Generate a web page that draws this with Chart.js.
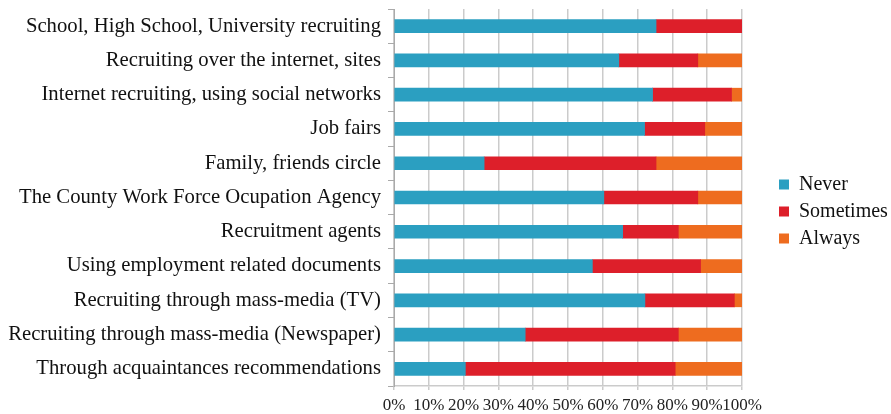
<!DOCTYPE html>
<html>
<head>
<meta charset="utf-8">
<script src="https://cdn.jsdelivr.net/npm/chart.js@4"></script>
<style>
  html, body { margin: 0; padding: 0; background: #fff; }
  #wrap { width: 891px; height: 414px; }
</style>
</head>
<body>
<div id="wrap"><canvas id="chart"></canvas></div>
<script>
const categories = [
    'School, High School, University recruiting',
    'Recruiting over the internet, sites',
    'Internet recruiting, using social networks',
    'Job fairs',
    'Family, friends circle',
    'The County Work Force Ocupation Agency',
    'Recruitment agents',
    'Using employment related documents',
    'Recruiting through mass-media (TV)',
    'Recruiting through mass-media (Newspaper)',
    'Through acquaintances recommendations'
];
const never = [75.3, 64.6, 74.3, 72.0, 25.9, 60.3, 65.7, 57.0, 72.1, 37.7, 20.5];
const sometimes = [24.7, 22.7, 22.7, 17.3, 49.4, 27.0, 16.0, 31.1, 25.7, 44.0, 60.3];
const always = [0, 12.7, 3.0, 10.7, 24.7, 12.7, 18.3, 11.9, 2.2, 18.3, 19.2];
const xTicks = [0, 10, 20, 30, 40, 50, 60, 70, 80, 90, 100];

const serif = "'Liberation Serif', 'Times New Roman', serif";

// legend sits on the right with some white space between it and the bars
const legendSpace = {
    id: 'legendSpace',
    beforeLayout(chart) {
        const lg = chart.legend;
        if (!lg || lg._spaced) return;
        const fit = lg.fit;
        lg.fit = function () { fit.call(this); this.width = 149; };
        lg._spaced = true;
    },
    afterLayout(chart) {
        if (chart.legend) chart.legend.left += 30;
    }
};

const ctx = document.getElementById('chart').getContext('2d');
new Chart(ctx, {
    type: 'bar',
    data: {
        labels: categories,
        datasets: [
            { label: 'Never', data: never, backgroundColor: '#2b9fc1', barThickness: 13 },
            { label: 'Sometimes', data: sometimes, backgroundColor: '#dd1f2a', barThickness: 13 },
            { label: 'Always', data: always, backgroundColor: '#ee6c1f', barThickness: 13 }
        ]
    },
    plugins: [legendSpace],
    options: {
        indexAxis: 'y',
        responsive: true,
        maintainAspectRatio: false,
        animation: false,
        layout: { padding: { top: 9, right: 0, bottom: 0, left: 0 } },
        plugins: {
            tooltip: { enabled: false },
            legend: {
                position: 'right',
                labels: {
                    boxWidth: 10,
                    boxHeight: 10,
                    padding: 7,
                    color: '#111',
                    font: { family: serif, size: 20 }
                }
            }
        },
        scales: {
            x: {
                stacked: true,
                min: 0,
                max: 100,
                afterBuildTicks: (scale) => { scale.ticks = xTicks.map(v => ({ value: v })); },
                afterFit: (scale) => { scale.height = 28; },
                ticks: {
                    callback: (v) => v + '%',
                    color: '#222',
                    padding: 5,
                    autoSkip: false,
                    maxRotation: 0,
                    font: { family: serif, size: 17 }
                },
                grid: { color: '#cbcbcb', lineWidth: 1.5, tickLength: 4 },
                border: { display: true, color: '#cbcbcb', width: 1.5 }
            },
            y: {
                stacked: true,
                afterFit: (scale) => {
                    scale.width = 394;
                    scale.paddingTop = 0;
                    scale.paddingBottom = 0;
                },
                ticks: {
                    color: '#111',
                    padding: 7,
                    font: { family: serif, size: 20.7 }
                },
                grid: { offset: true, drawOnChartArea: false, tickLength: 6, color: '#aaa' },
                border: { color: '#aaa' }
            }
        }
    }
});
</script>
</body>
</html>
